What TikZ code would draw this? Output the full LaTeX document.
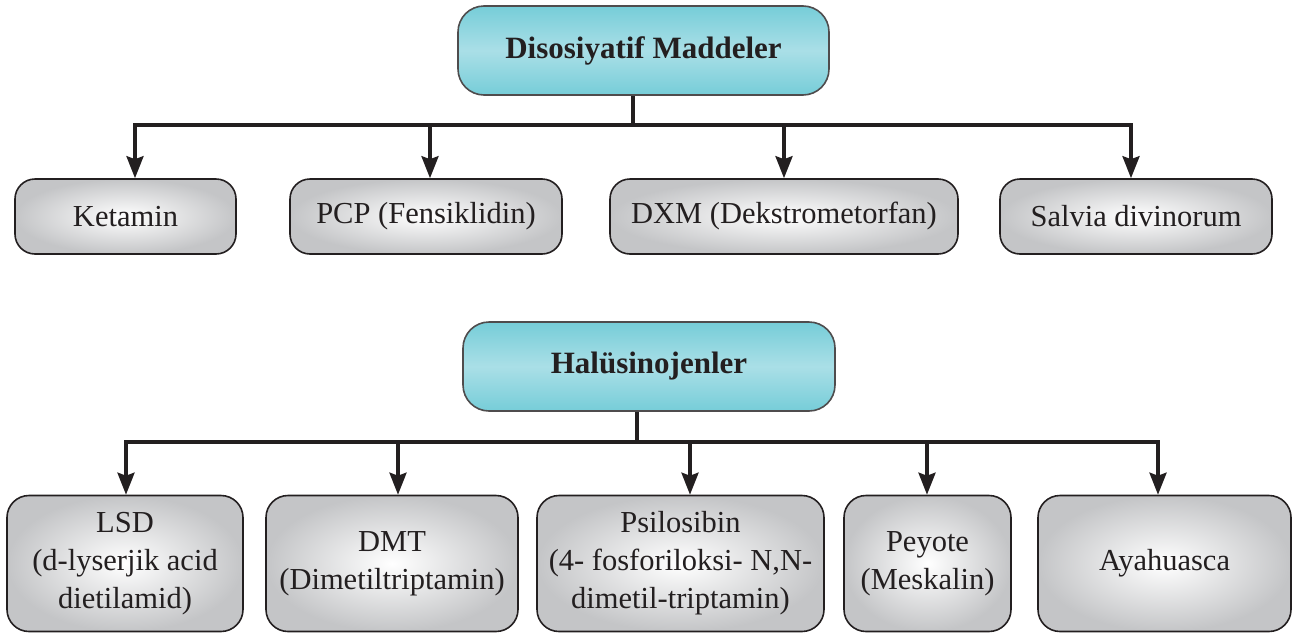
\documentclass[tikz,border=0pt]{standalone}
\usepackage{fontspec}
\setmainfont{Liberation Serif}
\usetikzlibrary{arrows.meta}
\definecolor{ink}{HTML}{231F20}
\definecolor{tealedge}{HTML}{76CDD8}
\definecolor{tealmid}{HTML}{AADFE7}
\definecolor{boxgray}{HTML}{C4C5C7}
\tikzset{
  headbox/.style={draw=ink!80, line width=1.6pt, rounded corners=26pt,
    top color=tealedge, bottom color=tealedge, middle color=tealmid,
    font=\fontsize{31}{36}\selectfont\bfseries, text=ink},
  itembox/.style={draw=ink, line width=1.6pt, rounded corners=20pt,
    inner color=white, outer color=boxgray,
    font=\fontsize{30.5}{38}\selectfont, text=ink, align=center},
  link/.style={draw=ink, line width=3.4pt},
  arrowlink/.style={link, -{Stealth[length=22pt,width=17pt,inset=3pt]}},
}
\begin{document}
\begin{tikzpicture}[x=1pt,y=-1pt]
\useasboundingbox (0,0) rectangle (1301,635);

% upper tree
\node[headbox, minimum width=371pt, minimum height=89pt] (dis) at (643.5,50.5) {Disosiyatif Maddeler};
\node[itembox, minimum width=221pt, minimum height=75pt] (ket) at (125.5,216.5) {Ketamin};
\node[itembox, minimum width=272pt, minimum height=75pt] (pcp) at (426,216.5) {PCP (Fensiklidin)};
\node[itembox, minimum width=348pt, minimum height=75pt] (dxm) at (784,216.5) {DXM (Dekstrometorfan)};
\node[itembox, minimum width=272pt, minimum height=75pt] (sal) at (1136,216.5) {Salvia divinorum};

\coordinate (busA) at (633,125);
\coordinate (aK) at (135,125);
\coordinate (aP) at (430,125);
\coordinate (aD) at (784,125);
\coordinate (aS) at (1131,125);
\draw[link] (dis.south -| busA) -- (busA);
\draw[link, line cap=rect] (aK) -- (aS);
\draw[arrowlink] (aK) -- (aK |- ket.north);
\draw[arrowlink] (aP) -- (aP |- pcp.north);
\draw[arrowlink] (aD) -- (aD |- dxm.north);
\draw[arrowlink] (aS) -- (aS |- sal.north);

% lower tree
\node[headbox, minimum width=372pt, minimum height=89pt] (hal) at (649,366.5) {Halüsinojenler};
\node[itembox, rounded corners=22pt, minimum width=236pt, minimum height=136pt] (lsd) at (125,563.5) {LSD\\(d-lyserjik acid\\dietilamid)};
\node[itembox, rounded corners=22pt, minimum width=252pt, minimum height=136pt] (dmt) at (392,563.5) {DMT\\(Dimetiltriptamin)};
\node[itembox, rounded corners=22pt, minimum width=287pt, minimum height=136pt] (psi) at (680.5,563.5) {Psilosibin\\(4- fosforiloksi- N,N-\\dimetil-triptamin)};
\node[itembox, rounded corners=22pt, minimum width=167pt, minimum height=136pt] (pey) at (927.5,563.5) {Peyote\\(Meskalin)};
\node[itembox, rounded corners=22pt, minimum width=253pt, minimum height=136pt] (aya) at (1164.5,563.5) {Ayahuasca};

\coordinate (busB) at (637,442);
\coordinate (bL) at (126,442);
\coordinate (bD) at (398,442);
\coordinate (bP) at (690,442);
\coordinate (bY) at (927,442);
\coordinate (bA) at (1158,442);
\draw[link] (hal.south -| busB) -- (busB);
\draw[link, line cap=rect] (bL) -- (bA);
\draw[arrowlink] (bL) -- (bL |- lsd.north);
\draw[arrowlink] (bD) -- (bD |- dmt.north);
\draw[arrowlink] (bP) -- (bP |- psi.north);
\draw[arrowlink] (bY) -- (bY |- pey.north);
\draw[arrowlink] (bA) -- (bA |- aya.north);
\end{tikzpicture}
\end{document}
